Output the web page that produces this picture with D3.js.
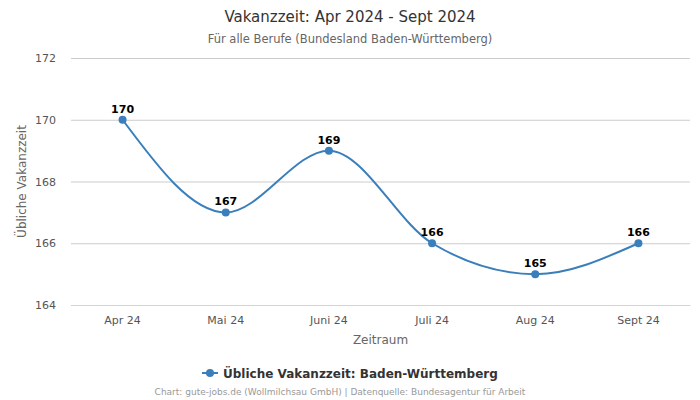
<!DOCTYPE html>
<html><head><meta charset="utf-8">
<script src="https://cdn.jsdelivr.net/npm/d3@7/dist/d3.min.js"></script>
<style>body{margin:0;background:#fff}svg{display:block}</style>
</head><body>
<svg id="c" width="700" height="400"></svg>
<script>
const categories = ["Apr 24","Mai 24","Juni 24","Juli 24","Aug 24","Sept 24"];
const values = [170,167,169,166,165,166];
const yTicks = [164,166,168,170,172];
const titleText = "Vakanzzeit: Apr 2024 - Sept 2024";
const subtitleText = "Für alle Berufe (Bundesland Baden-Württemberg)";
const seriesName = "Übliche Vakanzzeit: Baden-Württemberg";
const yTitle = "Übliche Vakanzzeit";
const xTitle = "Zeitraum";
const credits = "Chart: gute-jobs.de (Wollmilchsau GmbH) | Datenquelle: Bundesagentur für Arbeit";

(function(){
const svg = d3.select("#c");
const font = "DejaVu Sans, sans-serif";
const color = "#3a7fbb";
const pl = 71, pr = 690, pt = 58, pb = 305;

const x = d3.scaleBand().domain(categories).range([pl, pr]).padding(0);
const y = d3.scaleLinear().domain([164,172]).range([pb, pt]);

svg.append("text").attr("x",350).attr("y",22).attr("text-anchor","middle")
  .attr("font-family",font).attr("font-size",15).attr("fill","#333").text(titleText);
svg.append("text").attr("x",350).attr("y",43).attr("text-anchor","middle")
  .attr("font-family",font).attr("font-size",11.5).attr("fill","#666").text(subtitleText);

const gy = svg.append("g").attr("transform",`translate(${pl},0)`)
  .call(d3.axisLeft(y).tickValues(yTicks).tickSize(-(pr-pl)).tickPadding(15).tickFormat(d3.format("d")));
gy.select(".domain").remove();
gy.selectAll(".tick line").attr("stroke","#cccccc");
gy.selectAll(".tick text").attr("font-family",font).attr("font-size",11).attr("fill","#555");

const gx = svg.append("g").attr("transform",`translate(0,${pb})`)
  .call(d3.axisBottom(x).tickSize(0).tickPadding(11));
gx.select(".domain").attr("stroke","#ccd6eb");
gx.selectAll(".tick text").attr("font-family",font).attr("font-size",11).attr("fill","#555");

svg.append("text").attr("transform",`translate(26,${(pt+pb)/2}) rotate(-90)`).attr("text-anchor","middle")
  .attr("font-family",font).attr("font-size",12).attr("fill","#666").text(yTitle);
svg.append("text").attr("x",(pl+pr)/2).attr("y",344).attr("text-anchor","middle")
  .attr("font-family",font).attr("font-size",12).attr("fill","#666").text(xTitle);

const cx = (d,i)=> x(categories[i]) + x.bandwidth()/2;
const line = d3.line().x((d,i)=>cx(d,i)).y(d=>y(d)).curve(d3.curveMonotoneX);
svg.append("path").datum(values).attr("d",line).attr("fill","none").attr("stroke",color).attr("stroke-width",2);
svg.selectAll("circle.p").data(values).enter().append("circle")
  .attr("cx",cx).attr("cy",d=>y(d)).attr("r",4).attr("fill",color);
svg.selectAll("text.lbl").data(values).enter().append("text")
  .attr("x",cx).attr("y",d=>y(d)-7).attr("text-anchor","middle")
  .attr("font-family",font).attr("font-size",11).attr("font-weight","bold").attr("fill","#000").text(d=>d);

const lg = svg.append("g");
lg.append("line").attr("x1",202).attr("x2",218).attr("y1",373).attr("y2",373).attr("stroke",color).attr("stroke-width",2);
lg.append("circle").attr("cx",210).attr("cy",373).attr("r",4).attr("fill",color);
lg.append("text").attr("x",223).attr("y",377.5).attr("font-family",font).attr("font-size",12).attr("font-weight","bold").attr("fill","#333").text(seriesName);

svg.append("text").attr("x",340).attr("y",395).attr("text-anchor","middle")
  .attr("font-family",font).attr("font-size",9).attr("fill","#999").text(credits);
})();
</script>
</body></html>
